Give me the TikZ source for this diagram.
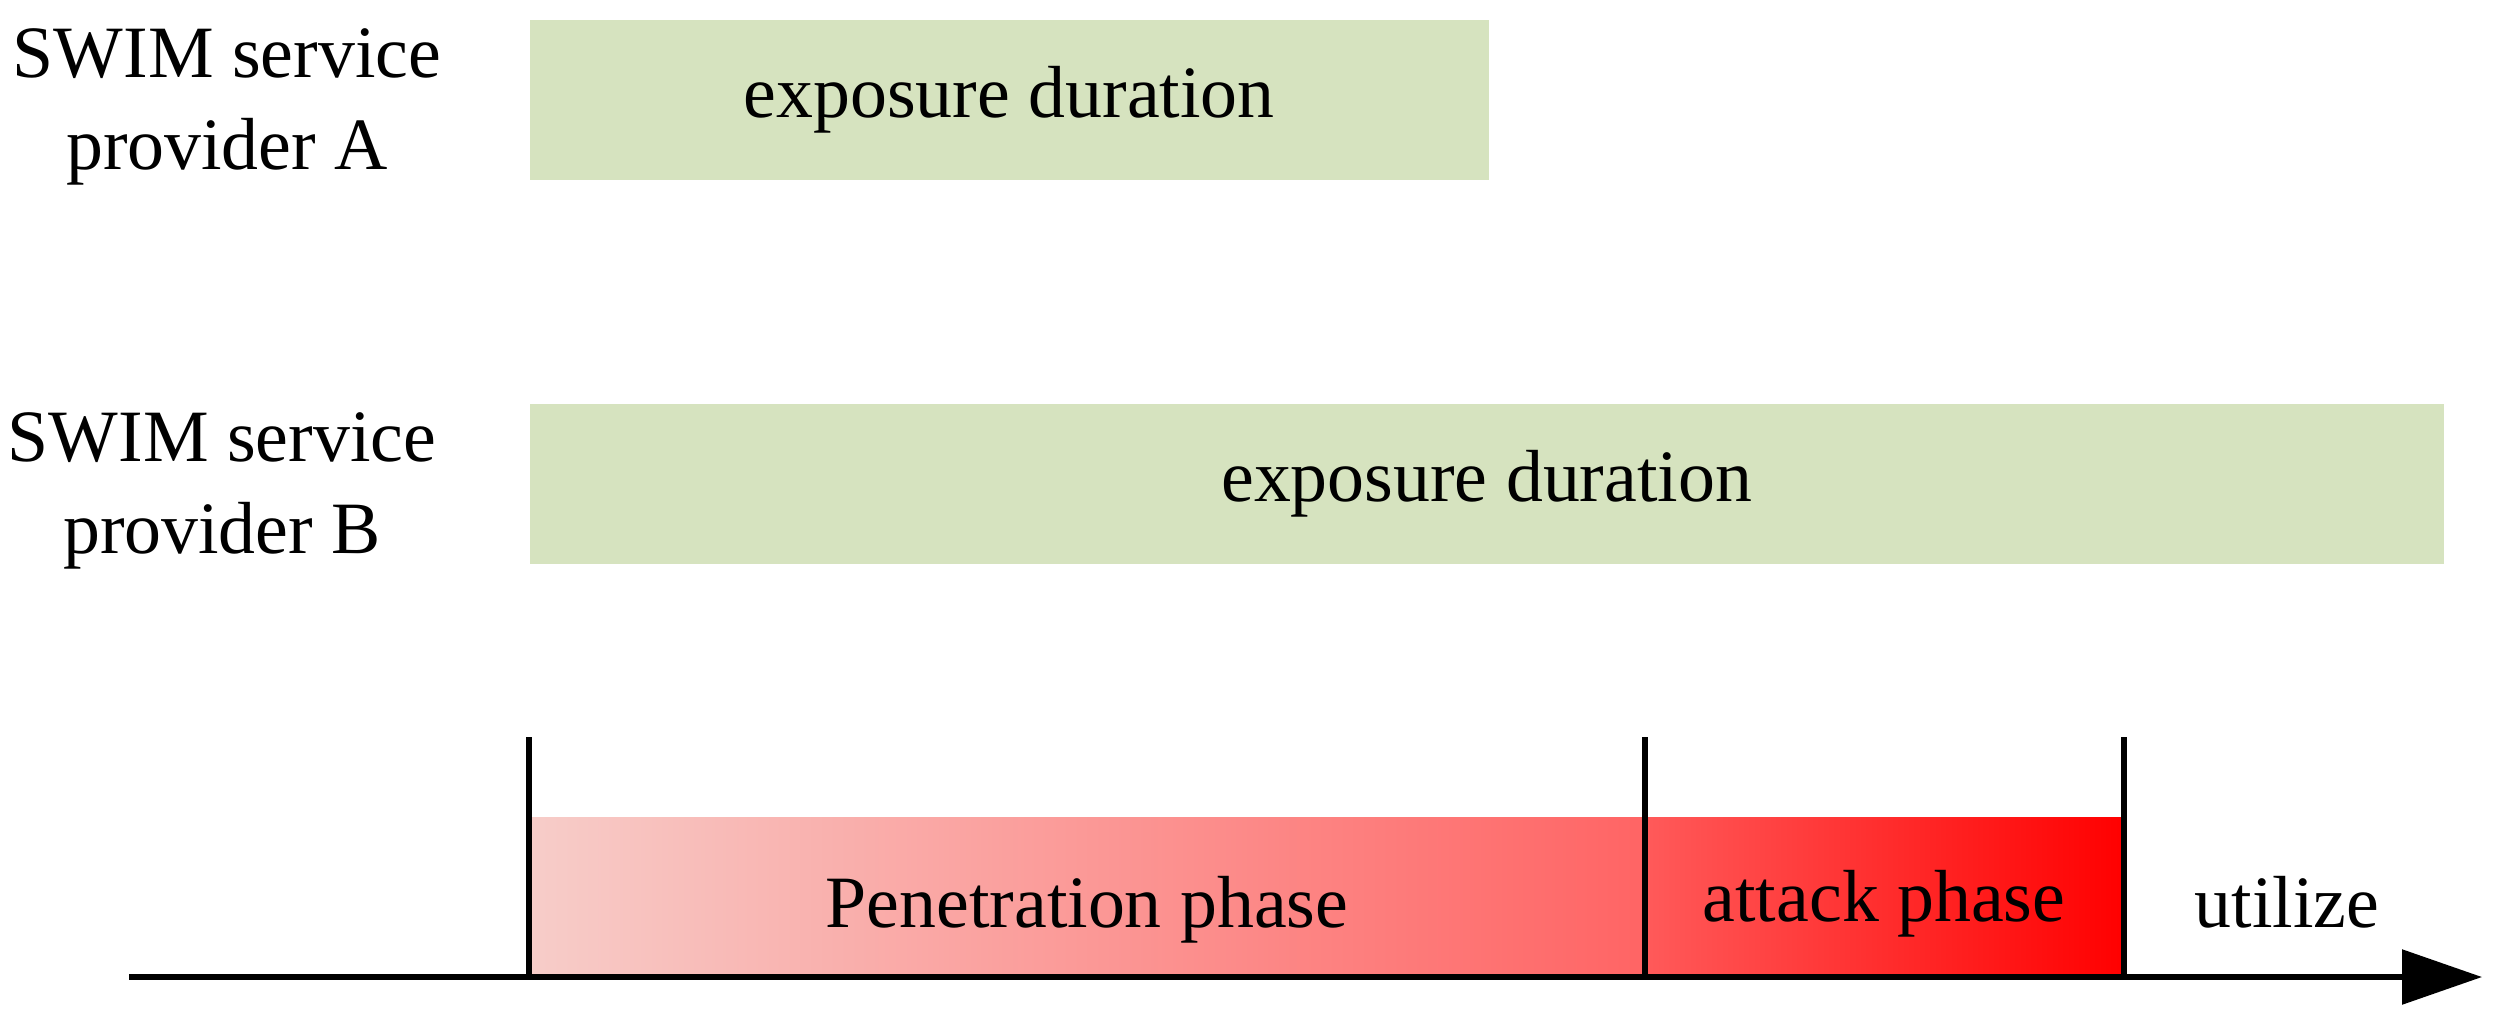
\documentclass[tikz,border=0pt]{standalone}
\usepackage{fontspec}
\setmainfont{Liberation Serif}
\usetikzlibrary{arrows.meta}
\definecolor{expgreen}{HTML}{D6E3BF}
\definecolor{penL}{HTML}{F7CDC9}
\definecolor{penR}{HTML}{FF6464}
\definecolor{attL}{HTML}{FF5A5A}
\definecolor{attR}{HTML}{FF0000}
\tikzset{
  lbl/.style={font=\fontsize{21}{26}\selectfont, align=center, inner sep=0pt},
  expbox/.style={fill=expgreen, draw=none, inner sep=0pt, font=\fontsize{21}{24}\selectfont},
  tickline/.style={line width=1.6pt},
  axisline/.style={line width=1.6pt, -{Triangle[length=0.80cm, width=0.54cm]}}
}
\begin{document}
\begin{tikzpicture}[x=1cm,y=1cm]
\useasboundingbox (0,0) rectangle (25,-10.27);
% exposure boxes
\node[expbox, minimum width=9.59cm, minimum height=1.60cm, anchor=north west] (expA) at (5.29,-0.19) {\raisebox{-0.08cm}{exposure duration}};
\node[expbox, minimum width=19.14cm, minimum height=1.60cm, anchor=north west] (expB) at (5.29,-4.03) {\raisebox{-0.08cm}{exposure duration}};
\node[lbl] (labA) at (2.27,-1.07) {SWIM service\\provider A};
\node[lbl] (labB) at (2.22,-4.91) {SWIM service\\provider B};
% phases
\path[left color=penL, right color=penR] (5.29,-8.17) rectangle (16.45,-9.77);
\path[left color=attL, right color=attR] (16.45,-8.17) rectangle (21.24,-9.77);
\node[lbl] (pen) at (10.87,-9.10) {Penetration phase};
\node[lbl] (att) at (18.84,-9.04) {attack phase};
\node[lbl] (util) at (22.87,-9.02) {utilize};
% axis
\coordinate (axS) at (1.29,-9.77);
\coordinate (axE) at (24.82,-9.77);
\draw[axisline] (axS) -- (axE);
\coordinate (t1a) at (5.29,-7.37); \coordinate (t1b) at (5.29,-9.77);
\coordinate (t2a) at (16.45,-7.37); \coordinate (t2b) at (16.45,-9.77);
\coordinate (t3a) at (21.24,-7.37); \coordinate (t3b) at (21.24,-9.77);
\draw[tickline] (t1a) -- (t1b);
\draw[tickline] (t2a) -- (t2b);
\draw[tickline] (t3a) -- (t3b);
\end{tikzpicture}
\end{document}
